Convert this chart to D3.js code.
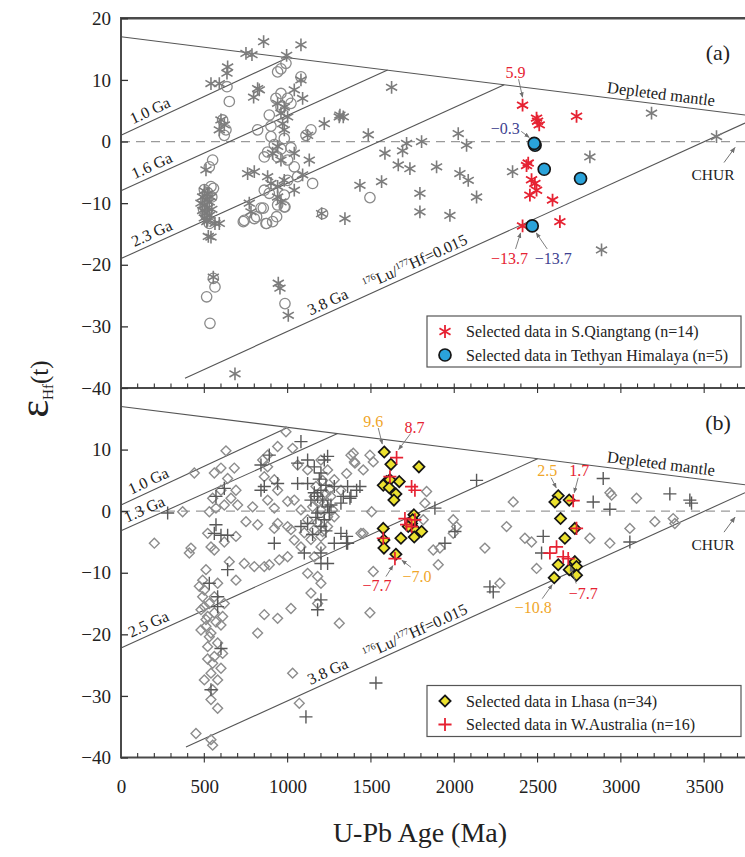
<!DOCTYPE html>
<html>
<head>
<meta charset="utf-8">
<script src="https://cdn.jsdelivr.net/npm/d3@7/dist/d3.min.js"></script>
<style>
body { margin: 0; background: #fff; }
text { font-family: "Liberation Serif", "Times New Roman", serif; }
</style>
</head>
<body>
<div id="chart"></div>
<script>
// ---- data: [age (Ma), epsilon Hf(t)] ----
var dmLine = [[0, 17.0], [3745, 4.3]]
var modelLinesA = [
    { label: "1.0 Ga", labelAge: 200, pts: [[0, 1.0], [1000, 13.6]] },
    { label: "1.6 Ga", labelAge: 210, pts: [[0, -8.0], [1600, 11.6]] },
    { label: "2.3 Ga", labelAge: 210, pts: [[0, -19.0], [2300, 9.2]] },
    { label: "3.8 Ga", labelAge: 1266, pts: [[384, -38.4], [3745, 3.0]] }
]
var modelLinesB = [
    { label: "1.0 Ga", labelAge: 190, pts: [[0, 1.0], [1000, 13.6]] },
    { label: "1.3 Ga", labelAge: 165, pts: [[0, -3.2], [1300, 12.6]] },
    { label: "2.5 Ga", labelAge: 190, pts: [[0, -22.2], [2500, 8.5]] },
    { label: "3.8 Ga", labelAge: 1266, pts: [[390, -38.3], [3745, 3.0]] }
]

var grayStarsA = [[856,16.2],[1080,15.7],[750,14.3],[786,14.1],[994,14.0],[640,12.1],[636,11.1],[540,9.4],[590,9.4],[820,8.6],[830,8.4],[796,7.2],[1080,10.0],[1040,8.4],[1090,7.0],[940,6.2],[980,5.6],[960,4.6],[1000,4.0],[600,3.5],[620,2.7],[590,1.9],[970,2.9],[980,1.9],[1220,2.9],[1310,4.0],[1120,1.0],[940,-0.8],[910,-1.9],[960,-3.0],[1040,-1.9],[1130,-3.0],[510,-4.6],[760,-5.2],[800,-4.9],[900,-6.8],[940,-7.3],[980,-6.3],[880,-5.7],[1090,-5.4],[1040,-7.9],[940,-9.0],[960,-9.8],[770,-10.0],[780,-11.4],[590,-13.3],[540,-15.5],
    [500,-8.0],[520,-8.5],[490,-9.0],[510,-9.5],[530,-9.8],[500,-10.3],[520,-10.8],[490,-11.2],[510,-11.6],[530,-12.0],[500,-12.4],[520,-12.8],[545,-11.0],[480,-10.0],[540,-9.0],[515,-13.0],
    [554,-22.0],[944,-23.0],[954,-23.8],[1004,-28.2],[684,-37.7],[1204,-11.7],[1344,-12.5],[564,-13.3],[524,-15.4],
    [1334,4.0],[1314,4.3],[1484,1.1],[2024,1.3],[2074,-0.6],[1714,-0.3],[1804,0],[1584,-1.9],[1664,-3.8],[1734,-4.4],[1894,-4.1],[2034,-5.2],[2084,-6.3],[1434,-7.1],[1564,-6.5],[1794,-8.4],[1794,-11.4],[1974,-12.0],[2134,-9.0],[2350,-4.9],[1690,-1.5],
    [1624,8.8],[3184,4.6],[3574,0.8],[2814,-2.5],[2884,-17.6]]
var grayCirclesA = [[990,12.7],[940,11.3],[960,11.8],[1080,10.5],[636,8.9],[650,6.5],[960,7.8],[930,7.0],[1000,7.0],[1020,6.2],[890,4.3],[960,5.6],[610,3.5],[630,1.9],[620,1.0],[820,1.9],[900,0.8],[980,0.5],[880,-1.7],[860,-2.5],[940,-2.5],[1000,-3.0],[1140,1.9],[1110,1.0],[550,-3.0],[530,-4.1],[1040,-4.1],[1060,-5.7],[1000,-6.3],[1150,-6.8],[540,-7.3],[555,-7.6],[890,-8.4],[860,-7.9],[980,-8.7],[840,-10.8],[980,-10.6],[940,-10.3],[740,-12.8],[800,-12.5],[870,-13.3],[910,-13.0],[530,-13.3],[1210,-11.7],[554,-22.2],[564,-23.6],[514,-25.2],[534,-29.5],[984,-26.3],[734,-13.0],[814,-12.2],[854,-10.8],[874,-13.3],[934,-12.2],[984,-10.6],[1494,-9.1],[900,2.5],[920,-0.5],[960,-1.2],[1020,-1.0],[500,-7.8],[520,-8.3],[545,-9.0],[510,-12.0],[495,-11.0]]
var qiangtang = [[2410,5.9],[2494,3.8],[2510,2.7],[2500,3.3],[2734,4.1],[2444,-3.5],[2434,-3.9],[2464,-6.2],[2484,-6.8],[2454,-8.7],[2494,-7.9],[2590,-9.5],[2410,-13.7],[2634,-13.0]]
var himalaya = [[2485,-0.6],[2480,-0.3],[2540,-4.5],[2758,-6.0],[2468,-13.7]]

var grayDiamondsB = [[990,12.9],[630,9.8],[880,9.1],[940,10.5],[1030,10.2],[440,6.2],[560,6.2],[600,7.0],[680,7.0],[640,5.3],[550,2.1],[600,3.4],[690,3.4],[660,2.1],[700,1.0],[620,1.0],[570,0.5],[530,-0.1],[370,-0.1],[200,-5.2],[420,-6.0],[410,-6.8],[750,-1.7],[820,-2.2],[790,0.7],[920,0.5],[940,-2.0],[920,-2.8],[1000,-2.5],[850,8.3],[880,7.2],[860,5.6],[920,5.1],[940,3.4],[880,1.8],[1000,1.6],[520,-3.6],[540,-5.8],[560,-6.3],[620,-5.0],[690,-4.1],[650,-8.2],[740,-8.5],[800,-9.0],[860,-9.0],[890,-8.7],[950,-7.9],[1000,-7.4],[690,-11.2],
    [510,-9.5],[490,-11.2],[500,-12.8],[490,-13.9],[500,-15.5],[520,-17.1],[510,-18.7],[530,-20.4],[520,-22.0],[560,-23.6],[550,-24.7],[540,-26.3],[580,-27.4],[550,-29.0],[540,-30.6],[580,-32.0],[610,-17.1],[600,-18.5],[620,-15.0],[580,-11.7],[560,-13.9],[580,-21.4],[610,-23.1],[600,-25.5],[500,-27.4],[470,-12.2],[480,-16.0],[510,-17.6],[480,-19.3],[530,-15.0],[560,-16.5],[540,-19.8],[570,-18.0],[520,-24.0],
    [450,-36.1],[540,-37.1],[550,-38.0],[1030,-26.3],[1070,-31.2],[860,-16.8],[940,-17.4],[1020,-15.8],[820,-19.8],[1310,-18.2],
    [1060,7.5],[1120,6.7],[1200,8.3],[1240,6.7],[1280,5.1],[1320,3.4],[1380,9.1],[1400,8.0],[1040,1.8],[1080,0.2],[1120,-1.4],[1160,-3.0],[1200,-4.1],[1240,-2.5],[1280,-0.9],[1040,-4.7],[1080,-5.8],[1020,-3.0],[1200,-5.8],[1160,-7.4],[1120,-10.1],[1180,-10.6],[1200,-11.7],[1140,-13.3],[1180,-15.0],[1440,-3.6],[1160,2.4],[1220,1.3],[1260,2.4],[1150,0.7],[1200,0.2],[1240,-0.9],
    [1170,4.0],[1210,5.0],[1250,3.5],[1190,1.5],[1230,2.8],[1270,0.2],[1180,-1.8],[1210,-3.3],[1140,-4.6],[1100,-3.5],
    [1394,9.4],[1494,9.1],[1404,7.8],[1514,8.0],[1354,6.1],[1454,6.7],[1834,3.2],[1824,1.3],[1504,-0.1],[1814,-1.4],[1994,-1.4],[2014,-2.5],[1994,-3.6],[1454,-3.6],[2354,1.5],[2314,-2.5],[2184,-6.0],[1874,-6.3],[1914,-6.0],[1904,-8.7],[1514,-9.8],[2274,-11.7],[1494,-16.5],[2424,-4.4],[2464,-5.0],[2494,-9.3],
    [2934,3.0],[2944,2.6],[3094,2.1],[3054,-2.8],[3204,-1.7],[3314,-1.2],[3324,-2.0],[2814,-4.4],[2934,-5.2]]
var grayPlusB = [[1080,11.3],[840,7.5],[890,9.1],[940,4.5],[860,4.0],[840,3.4],[620,3.7],[570,2.4],[280,-0.3],[570,-2.2],[600,-3.9],[560,-3.6],[640,-3.9],[640,-9.5],[530,-11.7],[580,-13.9],[580,-15.5],[600,-22.3],[540,-29.0],[1110,-33.4],[920,-5.2],
    [1060,7.8],[1120,8.3],[1160,7.2],[1220,8.3],[1240,8.9],[1200,6.2],[1120,4.5],[1060,4.5],[1200,3.4],[1280,4.0],[1360,4.0],[1380,2.4],[1320,1.3],[1240,0.7],[1180,-0.3],[1120,-2.0],[1080,-2.5],[1200,-2.5],[1320,-3.6],[1360,-5.2],[1280,-5.2],[1100,-6.8],[1200,-6.8],[1200,-8.5],[1240,-8.5],[1200,-14.4],[1180,-16.0],[1180,2.4],[1220,-1.4],[1260,1.0],[1140,1.8],
    [1190,5.2],[1230,4.2],[1160,3.0],[1210,1.8],[1250,-0.2],[1170,-1.0],[1230,-3.2],[1150,-3.8],
    [2134,5.0],[1884,0.5],[1434,4.0],[1414,3.4],[1334,2.4],[1374,2.1],[1354,-4.1],[1354,-5.2],[2004,-3.3],[1944,-5.2],[2214,-12.3],[2234,-13.1],[2534,-4.1],[2524,-6.8],
    [2894,5.3],[2834,1.5],[2934,0.3],[3294,2.8],[3414,1.8],[3424,1.3],[3054,-5.0],[1530,-27.9]]
var lhasa = [[1580,9.6],[1620,7.6],[1788,7.2],[1670,4.8],[1594,4.8],[1574,4.2],[1614,5.1],[1650,2.8],[1638,1.8],[1574,-2.8],[1578,-4.7],[1578,-6.0],[1650,-7.0],[1680,-4.4],[1758,-0.6],[1744,-2.0],[1770,-3.1],[1804,-3.3],[1724,-2.5],[1750,-1.4],[1610,3.8],[1760,-4.2],
    [2624,2.5],[2604,1.5],[2690,1.8],[2638,-1.2],[2724,-2.8],[2664,-4.4],[2624,-8.7],[2724,-8.2],[2734,-9.0],[2600,-10.8],[2734,-10.4],[2690,-9.5]]
var wAustralia = [[1654,8.7],[1614,5.6],[1744,4.0],[1764,3.4],[1704,-1.2],[1714,-2.2],[1744,-2.5],[1574,-4.4],[1644,-7.7],[1764,-1.4],[2714,1.7],[2734,-2.8],[2614,-5.8],[2574,-6.8],[2654,-7.4],[2684,-7.7]]

// labelled points: text, colour key, target point
var notesA = [["5.9", "red", 2410, 5.9], ["\u22120.3", "navy", 2480, -0.3], ["\u221213.7", "red", 2410, -13.7], ["\u221213.7", "navy", 2468, -13.7]]
var notesB = [["9.6", "orange", 1580, 9.6], ["8.7", "red", 1654, 8.7], ["\u22127.7", "red", 1644, -7.7], ["\u22127.0", "orange", 1650, -7.0],
    ["2.5", "orange", 2624, 2.5], ["1.7", "red", 2714, 1.7], ["\u221210.8", "orange", 2600, -10.8], ["\u22127.7", "red", 2684, -7.7]]

var yTicksA = [20, 10, 0, -10, -20, -30, -40]
var yTicksB = [10, 0, -10, -20, -30, -40]
var xTicks = [0, 500, 1000, 1500, 2000, 2500, 3000, 3500]

// ---- layout ----
// label offset [dx, dy] and arrow [x1, y1, x2, y2] relative to the target point (px)
var noteLayoutA = [[-7, -33, -4, -26, 0, -8], [-29, -15, -13, -12, -5, -6], [-13, 32, -7, 23, -2, 7], [21, 32, 15, 23, 4, 7]]
var noteLayoutB = [[-11, -31, -6, -24, -2, -8], [18, -30, 14, -24, 2, -8], [-18, 27, -9, 18, -2, 7], [21, 22, 15, 13, 6, 6],
    [-11, -25, -7, -18, -2, -8], [6, -30, 5, -23, 1, -8], [-21, 30, -12, 21, -2, 7], [15, 35, 8, 25, 2, 8]]
var colors = { red: "#e62232", navy: "#3e3f90", orange: "#f0a62a" }

var svg = d3.select("#chart").append("svg").attr("width", 745).attr("height", 857)
var x = d3.scaleLinear().domain([0, 3745]).range([121, 745])
var yA = d3.scaleLinear().domain([-40, 20]).range([388, 18.3])
var yB = d3.scaleLinear().domain([-40, 20]).range([757.5, 388])

var defs = svg.append("defs")
defs.append("marker").attr("id", "arr").attr("viewBox", "0 0 10 10").attr("refX", 9).attr("refY", 5)
    .attr("markerWidth", 6).attr("markerHeight", 6).attr("orient", "auto")
    .append("path").attr("d", "M0,1 L10,5 L0,9 Z").attr("fill", "#707070")

var star = d3.symbol().type(d3.symbolAsterisk).size(115)
var plus = d3.symbol().type(d3.symbolPlus).size(58)
var diamond = d3.symbol().type(d3.symbolDiamond2).size(62)
var bigDiamond = d3.symbol().type(d3.symbolDiamond2).size(80)

function drawRefLines(g, y, models, panel) {
    var line = d3.line().x(function(d) { return x(d[0]) }).y(function(d) { return y(d[1]) })
    // CHUR dashed line
    g.append("path").datum([[0, 0], [3745, 0]]).attr("d", line)
        .attr("stroke", "#9a9a9a").attr("stroke-width", 1.3).attr("stroke-dasharray", "9,6").attr("fill", "none")
    g.append("path").datum(dmLine).attr("d", line).attr("stroke", "#555").attr("stroke-width", 1.1).attr("fill", "none")
    models.forEach(function(m) {
        g.append("path").datum(m.pts).attr("d", line).attr("stroke", "#555").attr("stroke-width", 1.1).attr("fill", "none")
        var p0 = m.pts[0], p1 = m.pts[1]
        var ang = Math.atan2(y(p1[1]) - y(p0[1]), x(p1[0]) - x(p0[0])) * 180 / Math.PI
        var e = p0[1] + (p1[1] - p0[1]) * (m.labelAge - p0[0]) / (p1[0] - p0[0])
        g.append("text").attr("transform", "translate(" + x(m.labelAge) + "," + y(e) + ") rotate(" + ang + ")")
            .attr("dy", -5).attr("text-anchor", "middle").attr("font-size", 16).attr("fill", "#222").text(m.label)
        if (m.label == "3.8 Ga") {
            var age2 = 1790
            var e2 = p0[1] + (p1[1] - p0[1]) * (age2 - p0[0]) / (p1[0] - p0[0])
            var t = g.append("text").attr("transform", "translate(" + x(age2) + "," + y(e2) + ") rotate(" + ang + ")")
                .attr("dy", -5).attr("text-anchor", "middle").attr("font-size", 16).attr("fill", "#222")
            t.append("tspan").attr("font-size", 9.5).attr("dy", -11).text("176")
            t.append("tspan").attr("dy", 6).text("Lu/")
            t.append("tspan").attr("font-size", 9.5).attr("dy", -6).text("177")
            t.append("tspan").attr("dy", 6).text("Hf=0.015")
        }
    })
    // depleted mantle label
    var ang = Math.atan2(y(dmLine[1][1]) - y(dmLine[0][1]), x(dmLine[1][0]) - x(dmLine[0][0])) * 180 / Math.PI
    var age = 3234
    var e = dmLine[0][1] + (dmLine[1][1] - dmLine[0][1]) * age / dmLine[1][0]
    g.append("text").attr("transform", "translate(" + x(age) + "," + y(e) + ") rotate(" + ang + ")")
        .attr("dy", -5).attr("text-anchor", "middle").attr("font-size", 16.5).attr("fill", "#222").text("Depleted mantle")
    // CHUR label with arrow
    g.append("text").attr("x", 713).attr("y", y(0) + 33).attr("dy", "0.35em").attr("text-anchor", "middle")
        .attr("font-size", 15.5).attr("fill", "#222").text("CHUR")
    g.append("line").attr("x1", 724).attr("y1", y(0) + 21).attr("x2", 735).attr("y2", y(0) + 6)
        .attr("stroke", "#707070").attr("stroke-width", 1).attr("marker-end", "url(#arr)")
    g.append("text").attr("x", 718).attr("y", y(20) + 34).attr("dy", "0.35em").attr("text-anchor", "middle")
        .attr("font-size", 22).attr("fill", "#222").text("(" + panel + ")")
}

function drawSymbols(g, y, data, gen, stroke, fill, sw) {
    g.selectAll(null).data(data).enter().append("path")
        .attr("transform", function(d) { return "translate(" + x(d[0]) + "," + y(d[1]) + ")" })
        .attr("d", gen).attr("stroke", stroke).attr("stroke-width", sw).attr("fill", fill)
}

function drawCircles(g, y, data, r, stroke, fill, sw) {
    g.selectAll(null).data(data).enter().append("circle")
        .attr("cx", function(d) { return x(d[0]) }).attr("cy", function(d) { return y(d[1]) })
        .attr("r", r).attr("stroke", stroke).attr("stroke-width", sw).attr("fill", fill)
}

function drawNotes(g, y, notes, layout) {
    notes.forEach(function(n, i) {
        var px = x(n[2]), py = y(n[3]), L = layout[i]
        g.append("text").attr("x", px + L[0]).attr("y", py + L[1]).attr("dy", "0.35em").attr("text-anchor", "middle")
            .attr("font-size", 16).attr("fill", colors[n[1]]).text(n[0])
        g.append("line").attr("x1", px + L[2]).attr("y1", py + L[3]).attr("x2", px + L[4]).attr("y2", py + L[5])
            .attr("stroke", "#707070").attr("stroke-width", 0.9).attr("marker-end", "url(#arr)")
    })
}

function drawXTicks(g, y0) {
    g.selectAll(null).data(d3.range(100, 3701, 100)).enter().append("line")
        .attr("x1", function(d) { return x(d) }).attr("x2", function(d) { return x(d) })
        .attr("y1", y0 - 4.5)
        .attr("y2", function(d) { return d % 500 == 0 ? y0 + 5 : y0 })
        .attr("stroke", "#333").attr("stroke-width", 1.1)
}

function drawYAxis(g, y, ticks) {
    g.append("g").attr("transform", "translate(121,0)")
        .call(d3.axisLeft(y).tickValues(ticks).tickFormat(d3.format("d")).tickSizeInner(-7).tickSizeOuter(0).tickPadding(10))
        .call(function(a) {
            a.select(".domain").remove()
            a.selectAll("line").attr("stroke", "#333").attr("stroke-width", 1.3)
            a.selectAll("text").attr("font-size", 19).attr("fill", "#222")
        })
}

// ---- panel (a) ----
var ga = svg.append("g")
drawRefLines(ga, yA, modelLinesA, "a")
drawCircles(ga, yA, grayCirclesA, 5.2, "#8a8a8a", "none", 1.3)
drawSymbols(ga, yA, grayStarsA, star, "#7c7c7c", "none", 1.6)
drawSymbols(ga, yA, qiangtang, star, colors.red, "none", 1.8)
drawCircles(ga, yA, himalaya, 6, "#151515", "#2aa3da", 1.7)
drawNotes(ga, yA, notesA, noteLayoutA)

// ---- panel (b) ----
var gb = svg.append("g")
drawRefLines(gb, yB, modelLinesB, "b")
drawSymbols(gb, yB, grayDiamondsB, diamond, "#8c8c8c", "none", 1.4)
drawSymbols(gb, yB, grayPlusB, plus, "#585858", "none", 1.4)
drawSymbols(gb, yB, lhasa, bigDiamond, "#151515", "#ece22f", 1.7)
drawSymbols(gb, yB, wAustralia, plus, colors.red, "none", 1.7)
drawNotes(gb, yB, notesB, noteLayoutB)

// ---- frame and axes ----
svg.append("line").attr("x1", 121).attr("x2", 745).attr("y1", 18.3).attr("y2", 18.3).attr("stroke", "#4a4a4a").attr("stroke-width", 2.5)
svg.append("line").attr("x1", 121).attr("x2", 121).attr("y1", 17).attr("y2", 758.5).attr("stroke", "#4a4a4a").attr("stroke-width", 2)
svg.append("line").attr("x1", 121).attr("x2", 745).attr("y1", 388).attr("y2", 388).attr("stroke", "#4a4a4a").attr("stroke-width", 2)
svg.append("line").attr("x1", 121).attr("x2", 745).attr("y1", 757.5).attr("y2", 757.5).attr("stroke", "#4a4a4a").attr("stroke-width", 2)
drawXTicks(svg, 388)
drawXTicks(svg, 757.5)
drawYAxis(svg, yA, yTicksA)
drawYAxis(svg, yB, yTicksB)

svg.append("g").attr("transform", "translate(0,757.5)")
    .call(d3.axisBottom(x).tickValues(xTicks).tickFormat(d3.format("d")).tickSize(0).tickPadding(22))
    .call(function(a) {
        a.select(".domain").remove()
        a.selectAll("text").attr("font-size", 19).attr("fill", "#222")
    })

svg.append("text").attr("x", 420).attr("y", 842).attr("text-anchor", "middle")
    .attr("font-size", 28).attr("fill", "#222").text("U-Pb Age (Ma)")

var yt = svg.append("text").attr("transform", "translate(48,389) rotate(-90)").attr("text-anchor", "middle").attr("fill", "#222")
yt.append("tspan").attr("font-size", 42).text("\u03b5")
yt.append("tspan").attr("font-size", 15).attr("dy", 5).text("Hf")
yt.append("tspan").attr("font-size", 25).attr("dy", -5).text("(t)")

// ---- legends ----
function legend(top, rows) {
    var g = svg.append("g")
    g.append("rect").attr("x", 427).attr("y", top).attr("width", 314).attr("height", 51)
        .attr("fill", "#fff").attr("stroke", "#555").attr("stroke-width", 1.2)
    rows.forEach(function(r, i) {
        var cy = top + 15.5 + i * 23.5
        if (r.kind == "circle") {
            g.append("circle").attr("cx", 445).attr("cy", cy).attr("r", 6).attr("fill", "#2aa3da").attr("stroke", "#151515").attr("stroke-width", 1.7)
        } else {
            g.append("path").attr("transform", "translate(445," + cy + ")").attr("d", r.gen)
                .attr("stroke", r.stroke).attr("fill", r.fill).attr("stroke-width", 1.8)
        }
        g.append("text").attr("x", 466).attr("y", cy).attr("dy", "0.35em").attr("font-size", 16).attr("fill", "#222").text(r.text)
    })
}
legend(316, [{ kind: "sym", gen: star, stroke: colors.red, fill: "none", text: "Selected data in S.Qiangtang (n=14)" },
    { kind: "circle", text: "Selected data in Tethyan Himalaya (n=5)" }])
legend(685.5, [{ kind: "sym", gen: bigDiamond, stroke: "#151515", fill: "#ece22f", text: "Selected data in Lhasa (n=34)" },
    { kind: "sym", gen: plus, stroke: colors.red, fill: "none", text: "Selected data in W.Australia (n=16)" }])
</script>
</body>
</html>
